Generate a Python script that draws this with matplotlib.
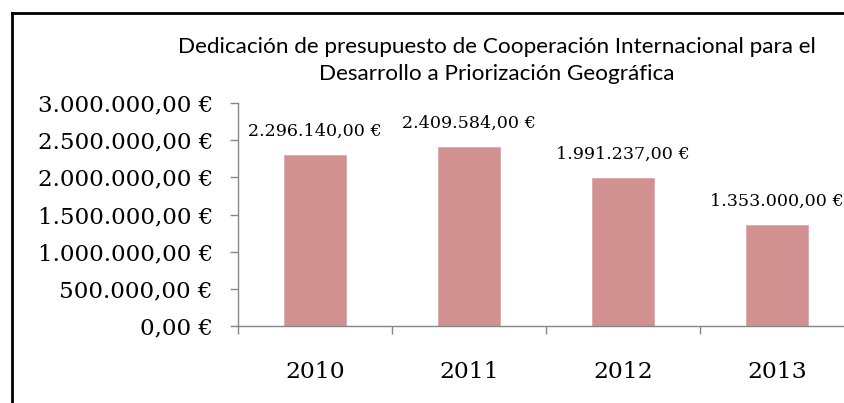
import matplotlib
matplotlib.use("Agg")
import matplotlib.pyplot as plt
from matplotlib.lines import Line2D
from matplotlib.ticker import FixedLocator

years = ["2010", "2011", "2012", "2013"]
values = [2296140.00, 2409584.00, 1991237.00, 1353000.00]
y_ticks = [0, 500000, 1000000, 1500000, 2000000, 2500000, 3000000]
title = "Dedicación de presupuesto de Cooperación Internacional para el\nDesarrollo a Priorización Geográfica"


def euro(v):
    s = f"{v:,.2f}"
    s = s.replace(",", "X").replace(".", ",").replace("X", ".")
    return s + " €"


W, H = 845, 403
fig = plt.figure(figsize=(W / 100, H / 100), dpi=100)
fig.patch.set_facecolor("white")

left_px, right_px, top_px, bottom_px = 238, 845, 103, 326
ax = fig.add_axes([left_px / W, 1 - bottom_px / H, (right_px - left_px) / W, (bottom_px - top_px) / H])

x = list(range(len(years)))
bar_color = "#D19191"
bars = ax.bar(x, values, width=0.4, color=bar_color, edgecolor="#DDA8A8", linewidth=0.6, zorder=2)

cat_w = 154.0
ax.set_xlim(-0.5, -0.5 + (right_px - left_px) / cat_w)
ax.set_ylim(0, 3000000)

serif = ["DejaVu Serif"]
ax.set_yticks(y_ticks)
ax.set_yticklabels([euro(v) for v in y_ticks], fontfamily=serif, fontsize=16.6)
ax.set_xticks(x)
ax.set_xticklabels(years, fontfamily=serif, fontsize=16.9)
ax.xaxis.set_minor_locator(FixedLocator([-0.5, 0.5, 1.5, 2.5, 3.5]))
ax.tick_params(axis="x", which="major", length=0, pad=25)
ax.tick_params(axis="x", which="minor", length=6, color="#868686", width=1, direction="out")
ax.tick_params(axis="y", length=6, color="#868686", width=1, direction="out", pad=12)

for s in ["top", "right"]:
    ax.spines[s].set_visible(False)
for s in ["left", "bottom"]:
    ax.spines[s].set_color("#868686")
    ax.spines[s].set_linewidth(1)

for xi, v in zip(x, values):
    ax.annotate(euro(v), (xi, v), xytext=(0, 11), textcoords="offset points",
                ha="center", va="bottom", fontfamily=serif, fontsize=12.6, color="#000000")

fig.text(497 / W, 1 - 60.5 / H, title, ha="center", va="center",
         fontfamily=["Lato", "DejaVu Sans"], fontsize=16.2, linespacing=1.45)

# chart border (top and left only visible)
fig.add_artist(Line2D([12 / W, 1.0], [1 - 13 / H, 1 - 13 / H], transform=fig.transFigure, color="black", linewidth=2))
fig.add_artist(Line2D([12 / W, 12 / W], [0, 1 - 13 / H], transform=fig.transFigure, color="black", linewidth=2))

fig.savefig("out.png", dpi=100)
